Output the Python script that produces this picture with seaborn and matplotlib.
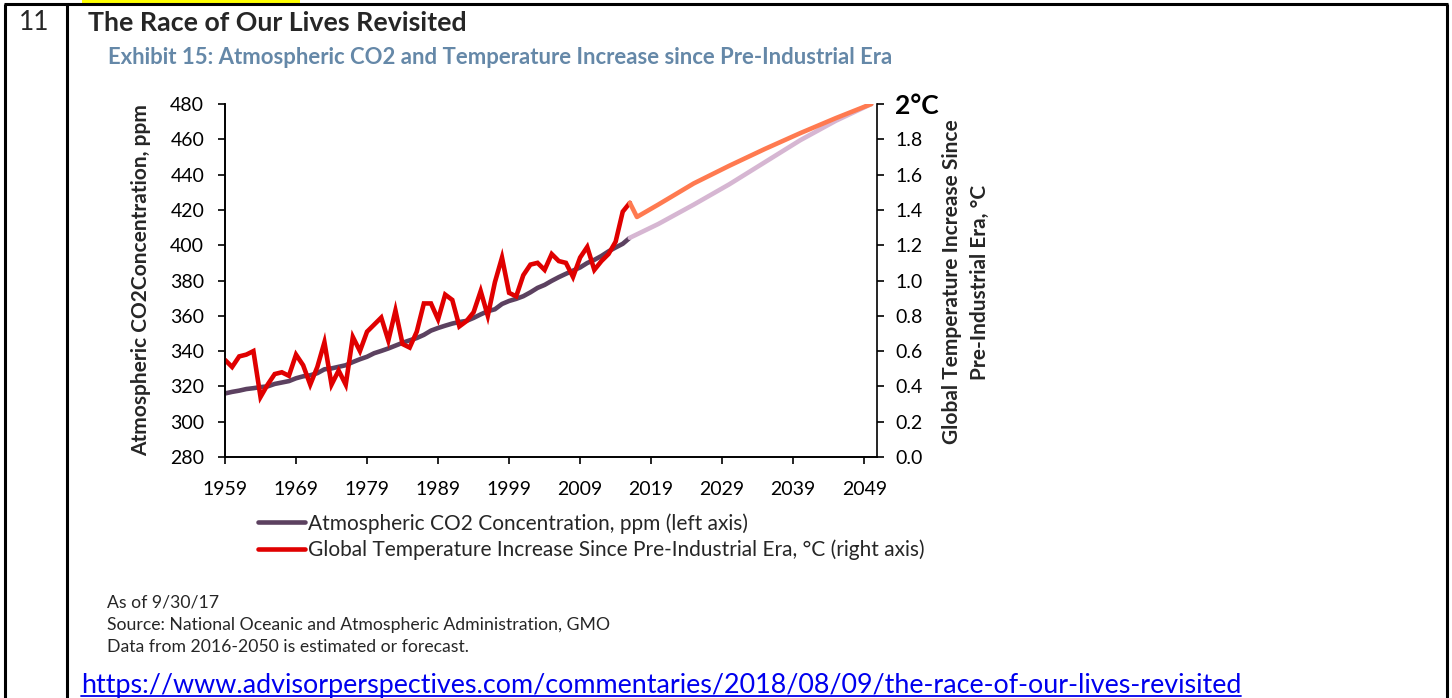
import matplotlib
matplotlib.use("Agg")
import matplotlib.pyplot as plt
from matplotlib.lines import Line2D
from matplotlib.patches import Rectangle
import seaborn as sns
import pandas as pd

# ---- data -------------------------------------------------------------
years_hist = list(range(1959, 2017))
co2_hist = [316.0, 316.9, 317.6, 318.5, 319.0, 319.6, 320.0, 321.4, 322.2, 323.0,
            324.6, 325.7, 326.3, 327.5, 329.7, 330.2, 331.1, 332.0, 333.8, 335.4,
            336.8, 338.8, 340.1, 341.5, 343.1, 344.7, 346.1, 347.4, 349.2, 351.6,
            353.1, 354.4, 355.6, 356.5, 357.1, 358.8, 360.8, 362.6, 363.7, 366.7,
            368.4, 369.6, 371.1, 373.3, 375.8, 377.5, 379.8, 381.9, 383.8, 385.6,
            387.4, 389.9, 391.7, 393.9, 396.5, 398.7, 400.8, 404.2]
temp_hist = [0.55, 0.51, 0.57, 0.58, 0.60, 0.34, 0.41, 0.47, 0.48, 0.46,
             0.58, 0.52, 0.41, 0.51, 0.65, 0.41, 0.49, 0.41, 0.68, 0.60,
             0.71, 0.75, 0.79, 0.66, 0.83, 0.64, 0.62, 0.71, 0.87, 0.87,
             0.78, 0.92, 0.89, 0.74, 0.77, 0.82, 0.94, 0.80, 0.99, 1.13,
             0.93, 0.91, 1.03, 1.09, 1.10, 1.06, 1.15, 1.11, 1.10, 1.02,
             1.13, 1.19, 1.06, 1.11, 1.15, 1.22, 1.39, 1.44]

years_co2_fc = [2016, 2020, 2025, 2030, 2035, 2040, 2045, 2050]
co2_fc = [404.2, 412.0, 423.0, 434.5, 447.0, 459.5, 470.5, 480.0]
years_temp_fc = [2016, 2017, 2020, 2025, 2030, 2035, 2040, 2045, 2050]
temp_fc = [1.44, 1.36, 1.43, 1.55, 1.65, 1.745, 1.835, 1.92, 2.0]

x_ticks = [1959, 1969, 1979, 1989, 1999, 2009, 2019, 2029, 2039, 2049]
left_ticks = [280, 300, 320, 340, 360, 380, 400, 420, 440, 460, 480]
right_ticks = [0.0, 0.2, 0.4, 0.6, 0.8, 1.0, 1.2, 1.4, 1.6, 1.8, 2.0]
right_tick_labels = ["0.0", "0.2", "0.4", "0.6", "0.8", "1.0", "1.2", "1.4",
                     "1.6", "1.8", "2°C"]

legend_labels = ["Atmospheric CO2 Concentration, ppm (left axis)",
                 "Global Temperature Increase Since Pre-Industrial Era, °C (right axis)"]
notes = ["As of 9/30/17",
         "Source: National Oceanic and Atmospheric Administration, GMO",
         "Data from 2016-2050 is estimated or forecast."]
url = "https://www.advisorperspectives.com/commentaries/2018/08/09/the-race-of-our-lives-revisited"

hist = pd.DataFrame({"year": years_hist, "co2": co2_hist, "temp": temp_hist})
co2_future = pd.DataFrame({"year": years_co2_fc, "co2": co2_fc})
temp_future = pd.DataFrame({"year": years_temp_fc, "temp": temp_fc})

# ---- style ------------------------------------------------------------
sns.set_theme(style="ticks")
plt.rcParams["font.family"] = ["Lato", "DejaVu Sans"]

C_CO2 = "#5C4160"
C_CO2_FC = "#D6B6D2"
C_TEMP = "#E00000"
C_TEMP_FC = "#FF7A50"

W, H = 1452, 698
fig = plt.figure(figsize=(W / 100, H / 100), dpi=100)
fig.patch.set_facecolor("white")


def fx(px):
    return px / W


def fy(py):
    return 1 - py / H


ax = fig.add_axes([fx(225), fy(457), fx(877) - fx(225), fy(104) - fy(457)])
ax2 = ax.twinx()

lw = 3.3
sns.lineplot(data=hist, x="year", y="co2", ax=ax, color=C_CO2, lw=lw,
             legend=False, solid_capstyle="butt")
sns.lineplot(data=co2_future, x="year", y="co2", ax=ax, color=C_CO2_FC, lw=lw,
             legend=False)
sns.lineplot(data=hist, x="year", y="temp", ax=ax2, color=C_TEMP, lw=lw,
             legend=False, solid_joinstyle="miter")
sns.lineplot(data=temp_future, x="year", y="temp", ax=ax2, color=C_TEMP_FC, lw=lw,
             legend=False)

ax.set_xlim(1959, 2050.8)
ax.set_ylim(280, 480)
ax2.set_ylim(0, 2)
ax.set_xticks(x_ticks)
ax.set_yticks(left_ticks)
ax2.set_yticks(right_ticks)
ax2.set_yticklabels(right_tick_labels)
ax.set_xlabel("")
ax.set_ylabel("")
ax2.set_ylabel("")

for a in (ax, ax2):
    a.spines["top"].set_visible(False)
    for s in a.spines.values():
        s.set_color("black")
        s.set_linewidth(1.2)
    a.patch.set_alpha(0)
ax.spines["right"].set_visible(False)

tick_kw = dict(direction="out", length=5, width=1.2, color="black",
               labelcolor="black", labelsize=14)
ax.tick_params(axis="x", pad=12, **tick_kw)
ax.tick_params(axis="y", pad=10, **tick_kw)
ax2.tick_params(axis="y", pad=8, **tick_kw)
two = ax2.get_yticklabels()[-1]
two.set_fontweight("bold")
two.set_fontsize(19)

# axis titles
fig.text(fx(141), fy(280), "Atmospheric CO2Concentration, ppm", rotation=90,
         ha="center", va="center", fontsize=15, fontweight="bold")
fig.text(fx(966), fy(282), "Global Temperature Increase Since\nPre-Industrial Era, °C",
         rotation=90, ha="center", va="center", fontsize=15, fontweight="bold",
         multialignment="center", linespacing=1.45)

# legend below the plot
handles = [Line2D([], [], color=C_CO2, lw=lw), Line2D([], [], color=C_TEMP, lw=lw)]
fig.legend(handles, legend_labels, loc="upper left",
           bbox_to_anchor=(fx(258), fy(513)), frameon=False, fontsize=15,
           handlelength=2.25, handletextpad=0.15, labelspacing=0.3,
           borderaxespad=0, borderpad=0)

# page headings and notes
fig.text(fx(34), fy(23), "11", ha="center", va="center", fontsize=19)
fig.text(fx(88), fy(23), "The Race of Our Lives Revisited", ha="left", va="center",
         fontsize=19.3, fontweight="bold")
fig.text(fx(108), fy(58), 
         "Exhibit 15: Atmospheric CO2 and Temperature Increase since Pre-Industrial Era",
         ha="left", va="center", fontsize=15.9, fontweight="bold", color="#6588A8")
for i, line in enumerate(notes):
    fig.text(fx(107), fy(603 + 22 * i), line, ha="left", va="center", fontsize=12.7)
url_txt = fig.text(fx(81), fy(686), url, ha="left", va="center", fontsize=19.4,
                   color="#0000EE")

# table frame
frame_kw = dict(color="black", lw=2.2, transform=fig.transFigure, solid_capstyle="butt")
fig.add_artist(Line2D([fx(4), fx(1448)], [fy(3.5), fy(3.5)], **frame_kw))
for xp in (5, 67, 1447):
    fig.add_artist(Line2D([fx(xp), fx(xp)], [fy(3.5), fy(698)], **frame_kw))
fig.add_artist(Rectangle((fx(82), fy(2.5)), fx(300) - fx(82), fy(0) - fy(2.5),
                         transform=fig.transFigure, color="#FFFF00", lw=0))

# underline the link
fig.canvas.draw()
bb = url_txt.get_window_extent()
fig.add_artist(Line2D([bb.x0 / W, bb.x1 / W], [fy(696), fy(696)], color="#0000EE",
                      lw=1.3, transform=fig.transFigure))

fig.savefig("out.png", dpi=100)
